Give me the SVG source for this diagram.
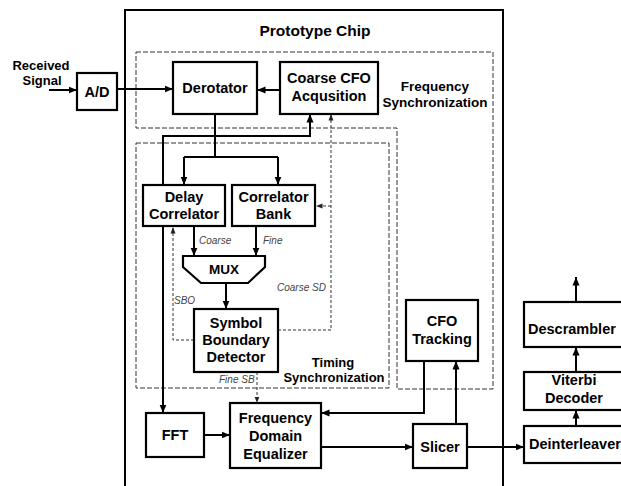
<svg xmlns="http://www.w3.org/2000/svg" width="621" height="486" viewBox="0 0 621 486">
<style>
text{font-family:"Liberation Sans",Arial,sans-serif;fill:#000}
.n{font-size:14.5px;font-weight:bold;text-anchor:middle}
.r{font-size:13.5px;font-weight:bold;text-anchor:middle}
.l{font-size:10px;font-style:italic;fill:#444}
.box{fill:#fff;stroke:#000;stroke-width:2.2}
.reg{fill:none;stroke:#333;stroke-width:1;stroke-dasharray:5,2}
.c{fill:none;stroke:#000;stroke-width:2}
.t{fill:none;stroke:#333;stroke-width:1;stroke-dasharray:3,2}
</style>
<defs>
<marker id="a" markerUnits="userSpaceOnUse" markerWidth="9" markerHeight="8" refX="8.5" refY="4" orient="auto"><path d="M0,0.5 L8.5,4 L0,7.5 z" fill="#000"/></marker>
<marker id="s" markerUnits="userSpaceOnUse" markerWidth="7" markerHeight="6" refX="6.5" refY="3" orient="auto"><path d="M0,0.5 L6.5,3 L0,5.5 z" fill="#222"/></marker>
</defs>
<rect width="621" height="486" fill="#fff"/>
<g id="chip">
<path d="M125,486 V10 H503 V486" fill="none" stroke="#000" stroke-width="2"/>
<text class="n" x="315" y="36" style="font-size:15.5px">Prototype Chip</text>
</g>
<g id="freq-sync">
<path class="reg" d="M136,52 H493 V389 H397 V128 H136 Z"/>
<text class="r" x="435" y="91">Frequency</text>
<text class="r" x="435" y="107">Synchronization</text>
</g>
<g id="timing-sync">
<rect class="reg" x="136" y="143" width="253" height="245"/>
<text class="r" x="333" y="367" style="font-size:13px">Timing</text>
<text class="r" x="334" y="382" style="font-size:13px">Synchronization</text>
</g>
<g id="connectors">
<path class="c" d="M49,90 H77" marker-end="url(#a)"/>
<path class="c" d="M117,89 H173" marker-end="url(#a)"/>
<path class="c" d="M280,90 H257" marker-end="url(#a)"/>
<path class="c" d="M215,114 V157"/>
<path class="c" d="M184,157 H278"/>
<path class="c" d="M184,157 V185" marker-end="url(#a)"/>
<path class="c" d="M278,157 V185" marker-end="url(#a)"/>
<path class="c" d="M163,185 V136 H310 V114" marker-end="url(#a)"/>
<path class="c" d="M163,226 V413" marker-end="url(#a)"/>
<path class="c" d="M194,226 V256" marker-end="url(#a)"/>
<path class="c" d="M256,226 V256" marker-end="url(#a)"/>
<path class="c" d="M226,283 V309" marker-end="url(#a)"/>
<path class="t" d="M278,330 H331 V114" marker-end="url(#s)"/>
<path class="t" d="M331,206 H316" marker-end="url(#s)"/>
<path class="t" d="M194,340 H173 V227" marker-end="url(#s)"/>
<path class="t" d="M257,372 V403" marker-end="url(#s)"/>
<path class="c" d="M204,435 H230" marker-end="url(#a)"/>
<path class="c" d="M424,361 V413 H321" marker-end="url(#a)"/>
<path class="c" d="M321,447 H413" marker-end="url(#a)"/>
<path class="c" d="M456,424 V361" marker-end="url(#a)"/>
<path class="c" d="M467,447 H524" marker-end="url(#a)"/>
<path class="c" d="M576,426 V410" marker-end="url(#a)"/>
<path class="c" d="M576,372 V347" marker-end="url(#a)"/>
<path class="c" d="M576,302 V277" marker-end="url(#a)"/>
<text class="l" x="199" y="244">Coarse</text>
<text class="l" x="263" y="244">Fine</text>
<text class="l" x="277" y="291">Coarse SD</text>
<text class="l" x="174" y="304">SBO</text>
<text class="l" x="219" y="383">Fine SB</text>
</g>
<g id="received-signal">
<text class="n" x="41" y="70" style="font-size:13px">Received</text>
<text class="n" x="42" y="85" style="font-size:13px">Signal</text>
</g>
<g id="ad">
<rect class="box" x="77" y="73" width="40" height="37"/>
<text class="n" x="97" y="97">A/D</text>
</g>
<g id="derotator">
<rect class="box" x="173" y="62" width="84" height="52"/>
<text class="n" x="215" y="93">Derotator</text>
</g>
<g id="coarse-cfo">
<rect class="box" x="280" y="62" width="98" height="52"/>
<text class="n" x="329" y="83">Coarse CFO</text>
<text class="n" x="329" y="101">Acqusition</text>
</g>
<g id="delay-correlator">
<rect class="box" x="143" y="185" width="82" height="41"/>
<text class="n" x="184" y="202">Delay</text>
<text class="n" x="184" y="219">Correlator</text>
</g>
<g id="correlator-bank">
<rect class="box" x="232" y="185" width="83" height="41"/>
<text class="n" x="273.5" y="202">Correlator</text>
<text class="n" x="273.5" y="219">Bank</text>
</g>
<g id="mux">
<path class="box" d="M183,256 H265 V267 L248,283 H201 L183,267 Z"/>
<text class="n" x="224" y="274" style="font-size:13.5px">MUX</text>
</g>
<g id="sbd">
<rect class="box" x="194" y="309" width="84" height="63"/>
<text class="n" x="236" y="328">Symbol</text>
<text class="n" x="236" y="345">Boundary</text>
<text class="n" x="236" y="362">Detector</text>
</g>
<g id="fft">
<rect class="box" x="146" y="413" width="58" height="44"/>
<text class="n" x="175" y="440">FFT</text>
</g>
<g id="fde">
<rect class="box" x="230" y="403" width="91" height="65"/>
<text class="n" x="275.5" y="423">Frequency</text>
<text class="n" x="275.5" y="441">Domain</text>
<text class="n" x="275.5" y="459">Equalizer</text>
</g>
<g id="cfo-tracking">
<rect class="box" x="406" y="300" width="72" height="61"/>
<text class="n" x="442" y="326">CFO</text>
<text class="n" x="442" y="344">Tracking</text>
</g>
<g id="slicer">
<rect class="box" x="413" y="424" width="54" height="44"/>
<text class="n" x="440" y="452">Slicer</text>
</g>
<g id="deinterleaver">
<rect class="box" x="524" y="426" width="110" height="37"/>
<text class="n" x="529" y="449" style="text-anchor:start">Deinterleaver</text>
</g>
<g id="viterbi">
<rect class="box" x="524" y="372" width="110" height="38"/>
<text class="n" x="574" y="385">Viterbi</text>
<text class="n" x="574" y="403">Decoder</text>
</g>
<g id="descrambler">
<rect class="box" x="524" y="302" width="110" height="45"/>
<text class="n" x="528" y="334" style="text-anchor:start">Descrambler</text>
</g>
</svg>
